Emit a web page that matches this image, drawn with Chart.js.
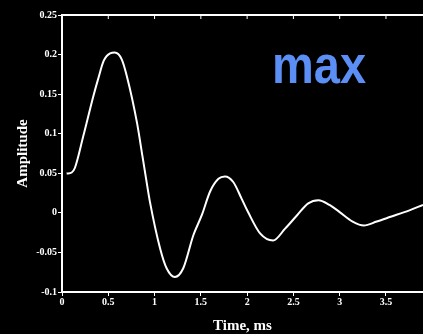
<!DOCTYPE html>
<html>
<head>
<meta charset="utf-8">
<script src="https://cdn.jsdelivr.net/npm/chart.js@4"></script>
<style>
html,body{margin:0;padding:0;background:#000;}
#wrap{position:relative;width:423px;height:334px;}
</style>
</head>
<body>
<div id="wrap"><canvas id="c" width="423" height="334"></canvas></div>
<script>
const timeMs = [0.05,0.105,0.14,0.23,0.34,0.39,0.45,0.52,0.57,0.645,0.70,0.81,0.87,0.91,0.95,1.06,1.13,1.22,1.31,1.42,1.51,1.60,1.69,1.76,1.85,1.94,2.01,2.14,2.28,2.41,2.54,2.66,2.77,2.89,3.0,3.14,3.26,3.4,3.55,3.76,3.9];
const amplitude = [0.0496,0.051,0.057,0.097,0.148,0.169,0.192,0.2015,0.2025,0.194,0.173,0.114,0.071,0.042,0.0139,-0.045,-0.070,-0.081,-0.070,-0.028,-0.003,0.027,0.043,0.046,0.039,0.018,0.001,-0.026,-0.035,-0.020,-0.003,0.012,0.016,0.010,0.001,-0.011,-0.016,-0.011,-0.005,0.0035,0.01];
const xTickValues = [0,0.5,1,1.5,2,2.5,3,3.5];
const xTickLabels = ["0","0.5","1","1.5","2","2.5","3","3.5"];
const yTickValues = [0.25,0.2,0.15,0.1,0.05,0,-0.05,-0.1];
const yTickLabels = ["0.25","0.2","0.15","0.1","0.05","0","-0.05","-0.1"];
const annotationText = "max";

const pts = timeMs.map((t,i)=>({x:t,y:amplitude[i]}));
const serif = "'Liberation Serif','DejaVu Serif',serif";

const topBorder = {
  id:'topBorder',
  afterDraw(chart){
    const {ctx, chartArea, scales} = chart;
    ctx.save();
    ctx.strokeStyle = '#fff';
    ctx.lineWidth = 2;
    ctx.beginPath();
    ctx.moveTo(chartArea.left, chartArea.top);
    ctx.lineTo(chartArea.right, chartArea.top);
    ctx.stroke();
    ctx.lineWidth = 1;
    xTickValues.forEach(v=>{
      const px = scales.x.getPixelForValue(v);
      ctx.beginPath();
      ctx.moveTo(px, chartArea.top);
      ctx.lineTo(px, chartArea.top+4);
      ctx.stroke();
    });
    ctx.fillStyle = '#5b8ff5';
    ctx.font = "bold 47px 'Liberation Sans', Arial, sans-serif";
    ctx.textAlign = 'left';
    ctx.textBaseline = 'alphabetic';
    ctx.translate(272, 83);
    ctx.scale(1, 1.15);
    ctx.fillText(annotationText, 0, 0);
    ctx.restore();
  }
};

new Chart(document.getElementById('c'), {
  type:'line',
  data:{datasets:[{data:pts, borderColor:'#fff', borderWidth:2, pointRadius:0, cubicInterpolationMode:'monotone', fill:false}]},
  options:{
    responsive:false, animation:false,
    layout:{padding:{top:15,right:0,left:0,bottom:0}},
    plugins:{legend:{display:false}, tooltip:{enabled:false}},
    scales:{
      x:{type:'linear', min:0, max:3.9,
        afterBuildTicks(a){a.ticks = xTickValues.map(v=>({value:v}));},
        afterFit(a){a.height = 42;},
        ticks:{color:'#fff', font:{family:serif, size:10, weight:'bold'}, padding:0, maxRotation:0,
          callback:(v)=>{const i=xTickValues.indexOf(v); return i>=0?xTickLabels[i]:'';}},
        grid:{drawOnChartArea:false, color:'#fff', tickLength:4, tickColor:'#fff'},
        border:{color:'#fff', width:2},
        title:{display:true, text:'Time, ms', color:'#fff', font:{family:serif, size:15, weight:'bold'}, padding:{top:0,bottom:-1}}
      },
      y:{type:'linear', min:-0.1, max:0.25,
        afterBuildTicks(a){a.ticks = yTickValues.map(v=>({value:v}));},
        afterFit(a){a.width = 62;},
        ticks:{color:'#fff', font:{family:serif, size:10, weight:'bold'}, padding:1,
          callback:(v)=>{const i=yTickValues.findIndex(t=>Math.abs(t-v)<1e-9); return i>=0?yTickLabels[i]:'';}},
        grid:{drawOnChartArea:false, color:'#fff', tickLength:4, tickColor:'#fff'},
        border:{color:'#fff', width:2},
        title:{display:true, text:'Amplitude', color:'#fff', font:{family:serif, size:15, weight:'bold'}, padding:{top:14,bottom:14}}
      }
    }
  },
  plugins:[topBorder]
});
</script>
</body>
</html>
